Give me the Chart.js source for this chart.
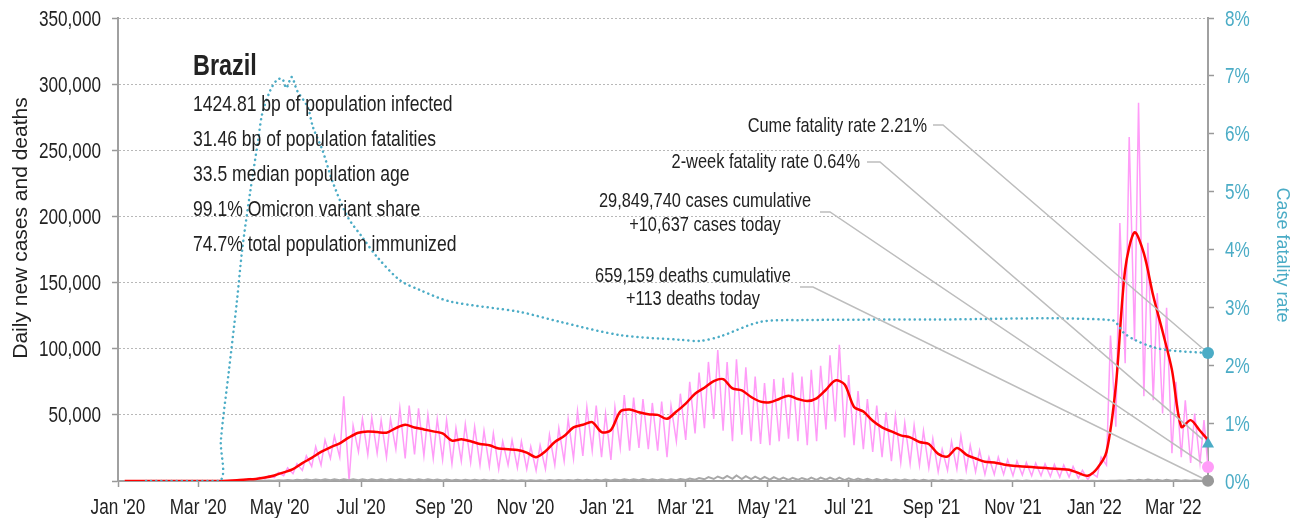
<!doctype html>
<html lang="en">
<head>
<meta charset="UTF-8" />
<title>Brazil: daily cases, deaths and case fatality rate</title>
<script src="https://cdn.jsdelivr.net/npm/chart.js"></script>
<style>
    html, body { margin: 0; padding: 0; background: #fff; }
    #chart-container { width: 1301px; height: 518px; }
</style>
</head>
<body>
<div id="chart-container"><canvas id="covidChart" width="1301" height="518"></canvas></div>
<script>
// no condensed face is installed, so text is drawn with a horizontal squeeze
const FONT = "'Liberation Sans', Arial, sans-serif";
const SQUEEZE = 0.78;
const TEAL = '#4bacc6';
const PINK = '#ff9cf8';
const INK = '#222';

// x axis: one tick every two months
const tickDates = ['2020-01-01', '2020-03-01', '2020-05-01', '2020-07-01', '2020-09-01', '2020-11-01',
    '2021-01-01', '2021-03-01', '2021-05-01', '2021-07-01', '2021-09-01', '2021-11-01',
    '2022-01-01', '2022-03-01'];
const tickLabels = ["Jan '20", "Mar '20", "May '20", "Jul '20", "Sep '20", "Nov '20",
    "Jan '21", "Mar '21", "May '21", "Jul '21", "Sep '21", "Nov '21", "Jan '22", "Mar '22"];

// weekly series, one value per Monday starting 2020-01-06
const firstMonday = '2020-01-06';
const lastDate = '2022-03-27';

// 7-day average of new cases
const weeklyAvgCases = [0, 0, 0, 0, 0, 0, 0, 0,
    0, 10, 40, 250, 600, 1100, 1600, 2600, 4200, 6500,
    9000, 13500, 17500, 22000, 25500, 28500, 33000, 36500, 37500, 37000,
    36500, 40000, 42500, 40500, 39000, 37500, 36000, 30500, 31500, 30000,
    28000, 27000, 24500, 24000, 23500, 21500, 18000, 22500, 29500, 34000,
    40500, 42500, 44500, 37000, 38500, 52500, 54000, 52000, 50500, 50000,
    47000, 52500, 58500, 66000, 70500, 75500, 77000, 70000, 68500, 63500,
    60000, 59500, 62000, 64500, 62000, 60500, 62500, 69000, 76000, 73000,
    56000, 52500, 45500, 40500, 37500, 34500, 33000, 29500, 28000, 20500,
    18500, 25000, 20000, 17000, 14500, 14000, 12500, 11500, 11000, 10500,
    10000, 9500, 9000, 8500, 6000, 4000, 9500, 22000, 72000, 160000,
    188000, 172000, 140000, 113000, 84000, 41000, 46000, 38000];

// daily new cases: weekly low (Monday) and high (Thursday)
const weeklyLowCases = [0, 0, 0, 0, 0, 0, 0, 0,
    0, 0, 30, 150, 350, 700, 1000, 1500, 2500, 4000,
    5500, 8000, 11000, 12000, 17000, 18000, 0, 22000, 20000, 21000,
    18000, 24000, 17000, 20000, 19000, 17000, 16000, 13000, 15000, 14000,
    12000, 11000, 9000, 12000, 10000, 9000, 8000, 9000, 12000, 15000,
    17000, 19000, 23000, 18000, 16000, 25000, 23000, 25000, 24000, 23000,
    18000, 30000, 31000, 36000, 40000, 47000, 38000, 30000, 35000, 30000,
    28000, 27000, 30000, 32000, 30000, 27000, 30000, 39000, 45000, 33000,
    27000, 24000, 22000, 18000, 15000, 14000, 13000, 12000, 10000, 7000,
    8000, 9000, 8000, 7000, 5000, 5000, 5000, 4000, 4500, 4000,
    4000, 3500, 3000, 3000, 2000, 1000, 3000, 12000, 41000, 89000,
    106000, 64000, 61000, 51000, 21000, 18000, 13600, 13600];
const weeklyHighCases = [0, 0, 0, 0, 0, 0, 0, 0,
    0, 20, 80, 400, 1000, 1800, 2800, 4000, 6500, 10000,
    13000, 19000, 26000, 31000, 34000, 64000, 42000, 47000, 48000, 46000,
    47000, 55000, 57000, 55000, 50000, 47000, 46000, 40000, 43000, 41000,
    38000, 36000, 30000, 31000, 30000, 26000, 27000, 35000, 40000, 47000,
    53000, 56000, 57000, 51000, 56000, 65000, 63000, 62000, 59000, 60000,
    57000, 66000, 75000, 82000, 90000, 99000, 90000, 92000, 86000, 79000,
    74000, 77000, 78000, 82000, 79000, 84000, 87000, 95000, 103000, 80000,
    68000, 62000, 57000, 52000, 49000, 44000, 42000, 38000, 32000, 24000,
    30000, 34000, 27000, 23000, 18000, 18000, 16000, 15000, 14000, 13500,
    13000, 12500, 12000, 11000, 8000, 6000, 18000, 110000, 195000, 260000,
    286000, 180000, 142000, 131000, 75000, 61000, 51000, 46000];

// daily deaths: weekly low (Monday) and high (Thursday)
const weeklyLowDeaths = [0, 0, 0, 0, 0, 0, 0, 0,
    0, 0, 0, 5, 30, 60, 100, 150, 250, 300,
    400, 600, 500, 600, 650, 650, 600, 600, 600, 650,
    600, 550, 550, 600, 600, 550, 450, 400, 450, 400,
    350, 300, 250, 250, 250, 200, 150, 250, 300, 300,
    350, 400, 400, 350, 450, 500, 550, 550, 550, 600,
    600, 650, 800, 1000, 1300, 1500, 1800, 1600, 1500, 1400,
    1200, 1000, 1000, 900, 900, 900, 900, 950, 800, 700,
    600, 550, 500, 450, 400, 350, 300, 280, 250, 200,
    200, 200, 180, 150, 120, 120, 100, 80, 80, 80,
    70, 60, 50, 50, 40, 30, 40, 50, 100, 200,
    300, 350, 300, 250, 150, 150, 130, 100];
const weeklyHighDeaths = [0, 0, 0, 0, 0, 0, 0, 0,
    0, 0, 2, 40, 120, 200, 250, 400, 500, 700,
    850, 1150, 1200, 1300, 1300, 1250, 1300, 1250, 1300, 1300,
    1350, 1350, 1250, 1250, 1350, 1200, 1100, 1000, 1000, 900,
    850, 750, 700, 600, 550, 500, 600, 700, 700, 800,
    850, 950, 1000, 1100, 1200, 1300, 1350, 1400, 1300, 1350,
    1300, 1550, 1900, 2300, 2900, 3400, 3800, 4200, 3700, 3300,
    3100, 2900, 2500, 2400, 2300, 2500, 2600, 2600, 2500, 2100,
    1800, 1700, 1500, 1300, 1200, 1100, 1000, 900, 800, 700,
    750, 700, 600, 550, 450, 450, 400, 350, 300, 280,
    250, 250, 200, 180, 150, 120, 180, 250, 450, 700,
    1000, 1100, 1000, 900, 700, 600, 500, 450];

// cumulative case fatality rate, percent
const cfrDates = ['2020-01-22', '2020-03-17', '2020-03-18', '2020-03-24', '2020-03-30', '2020-04-03',
    '2020-04-09', '2020-04-15', '2020-04-18', '2020-04-24', '2020-04-29', '2020-05-03', '2020-05-06',
    '2020-05-10', '2020-05-14', '2020-05-22', '2020-05-26', '2020-06-02', '2020-06-10', '2020-06-21',
    '2020-07-02', '2020-07-13', '2020-07-30', '2020-08-14', '2020-09-06', '2020-10-28', '2020-11-27',
    '2021-01-11', '2021-02-25', '2021-03-12', '2021-03-27', '2021-04-26', '2021-05-26', '2021-09-01',
    '2022-01-14', '2022-01-23', '2022-01-31', '2022-02-13', '2022-02-25', '2022-03-27'];
const cfrValues = [0, 0, 0.7, 1.9, 3.1, 4.0,
    5.0, 5.9, 6.35, 6.75, 6.93, 6.95, 6.79,
    6.98, 6.75, 6.46, 6.11, 5.72, 5.15, 4.56,
    4.21, 3.87, 3.47, 3.3, 3.1, 2.92, 2.75,
    2.52, 2.44, 2.42, 2.5, 2.75, 2.78, 2.79,
    2.78, 2.56, 2.44, 2.32, 2.26, 2.21];

// latest day
const casesToday = 10637;
const deathsToday = 113;
const avgCasesToday = 31000;
const cumeFatalityRate = 2.21;
const twoWeekFatalityRate = 0.64;

const statLines = ['1424.81 bp of population infected', '31.46 bp of population fatalities',
    '33.5 median population age', '99.1% Omicron variant share', '74.7% total population immunized'];

function dayOf(iso) {
    const [y, m, d] = iso.split('-').map(Number);
    return (Date.UTC(y, m - 1, d) - Date.UTC(2020, 0, 1)) / 86400000;
}

const startDay = dayOf(firstMonday);
const lastDay = dayOf(lastDate);
const tickDays = tickDates.map(dayOf);

function zigzag(lows, highs, today) {
    const pts = [];
    lows.forEach((lo, i) => {
        const d = startDay + 7 * i;
        pts.push({ x: d, y: lo });
        pts.push({ x: d + 3, y: highs[i] });
    });
    pts.push({ x: lastDay, y: today });
    return pts;
}

const avgPoints = weeklyAvgCases.map((v, i) => ({ x: startDay + 7 * i, y: v }));
avgPoints.push({ x: lastDay, y: avgCasesToday });
const cfrPoints = cfrDates.map((d, i) => ({ x: dayOf(d), y: cfrValues[i] }));

function markerSet(value, axis, color, style, radius) {
    return {
        data: [{ x: lastDay, y: value }], yAxisID: axis, showLine: false, clip: false,
        pointStyle: style, pointRadius: radius, pointBackgroundColor: color, pointBorderColor: color,
        pointBorderWidth: 0
    };
}

function squeezed(ctx, text, x, y, align, size, opts = {}) {
    ctx.save();
    ctx.font = (opts.bold ? 'bold ' : '') + size + 'px ' + FONT;
    ctx.fillStyle = opts.color || INK;
    ctx.textAlign = align;
    ctx.textBaseline = 'alphabetic';
    ctx.translate(x, y);
    if (opts.rotate) ctx.rotate(opts.rotate);
    ctx.scale(opts.sx || SQUEEZE, 1);
    ctx.fillText(text, 0, 0);
    ctx.restore();
}

// tick labels and axis titles
const axisTextPlugin = {
    id: 'axisText',
    afterDraw(chart) {
        const ctx = chart.ctx;
        const { x, y, y2 } = chart.scales;
        x.ticks.forEach((t, i) => {
            squeezed(ctx, tickLabels[i], x.getPixelForValue(t.value), 514, 'center', 22);
        });
        y.ticks.forEach(t => {
            if (t.value === 0) return;
            squeezed(ctx, t.value.toLocaleString('en-US'), 101, y.getPixelForValue(t.value) + 7.5, 'right', 22);
        });
        y2.ticks.forEach(t => {
            squeezed(ctx, t.value + '%', 1225, y2.getPixelForValue(t.value) + 7.5, 'left', 22, { color: TEAL });
        });
        squeezed(ctx, 'Daily new cases and deaths', 27, 228, 'center', 21, { rotate: -Math.PI / 2, sx: 1 });
        squeezed(ctx, 'Case fatality rate', 1277, 255, 'center', 18, { rotate: Math.PI / 2, sx: 1, color: TEAL });
    }
};

// text block, annotations and leader lines
const notesPlugin = {
    id: 'notes',
    afterDatasetsDraw(chart) {
        const ctx = chart.ctx;
        const x = chart.scales.x, y = chart.scales.y, y2 = chart.scales.y2;
        const ex = x.getPixelForValue(lastDay);

        const leaders = [
            { from: [933, 125], knee: [943, 125], to: [ex, y2.getPixelForValue(cumeFatalityRate)], r: 7 },
            { from: [867, 162], knee: [880, 162], to: [ex, y2.getPixelForValue(twoWeekFatalityRate)], r: 7 },
            { from: [820, 212], knee: [830, 212], to: [ex, y.getPixelForValue(casesToday)], r: 7 },
            { from: [800, 287], knee: [813, 287], to: [ex, y.getPixelForValue(deathsToday)], r: 6 }
        ];
        ctx.save();
        ctx.strokeStyle = '#bdbdbd';
        ctx.lineWidth = 1.5;
        leaders.forEach(l => {
            const dx = l.to[0] - l.knee[0], dy = l.to[1] - l.knee[1];
            const len = Math.hypot(dx, dy);
            ctx.beginPath();
            ctx.moveTo(l.from[0], l.from[1]);
            ctx.lineTo(l.knee[0], l.knee[1]);
            ctx.lineTo(l.to[0] - dx / len * l.r, l.to[1] - dy / len * l.r);
            ctx.stroke();
        });
        ctx.restore();

        squeezed(ctx, 'Brazil', 193, 75, 'left', 30, { bold: true });
        statLines.forEach((t, i) => squeezed(ctx, t, 193, 111 + 35 * i, 'left', 22.5));

        squeezed(ctx, 'Cume fatality rate ' + cumeFatalityRate.toFixed(2) + '%', 927, 132, 'right', 21);
        squeezed(ctx, '2-week fatality rate ' + twoWeekFatalityRate.toFixed(2) + '%', 860, 168, 'right', 21);
        squeezed(ctx, '29,849,740 cases cumulative', 705, 207, 'center', 21);
        squeezed(ctx, '+' + casesToday.toLocaleString('en-US') + ' cases today', 705, 231, 'center', 21);
        squeezed(ctx, '659,159 deaths cumulative', 693, 282, 'center', 21);
        squeezed(ctx, '+' + deathsToday.toLocaleString('en-US') + ' deaths today', 693, 305, 'center', 21);
    }
};

new Chart(document.getElementById('covidChart'), {
    type: 'line',
    data: {
        datasets: [
            markerSet(cumeFatalityRate, 'y2', TEAL, 'circle', 6),
            markerSet(twoWeekFatalityRate, 'y2', TEAL, 'triangle', 7),
            markerSet(casesToday, 'y', PINK, 'circle', 6),
            markerSet(deathsToday, 'y', '#999', 'circle', 6),
            {
                data: cfrPoints, yAxisID: 'y2', borderColor: TEAL, borderWidth: 2.5,
                borderDash: [0.1, 5], borderCapStyle: 'round', pointRadius: 0, tension: 0.3
            },
            {
                data: avgPoints, yAxisID: 'y', borderColor: '#ff0000', borderWidth: 2.5,
                pointRadius: 0, tension: 0.3
            },
            {
                data: zigzag(weeklyLowDeaths, weeklyHighDeaths, deathsToday), yAxisID: 'y',
                borderColor: '#a8a8a8', borderWidth: 2, pointRadius: 0, tension: 0
            },
            {
                data: zigzag(weeklyLowCases, weeklyHighCases, casesToday), yAxisID: 'y',
                borderColor: PINK, borderWidth: 1.5, pointRadius: 0, tension: 0
            }
        ]
    },
    options: {
        responsive: false,
        animation: false,
        layout: { padding: { top: 18, left: 0, right: 0, bottom: 0 } },
        plugins: { legend: { display: false }, tooltip: { enabled: false } },
        scales: {
            x: {
                type: 'linear', min: 0, max: lastDay,
                afterBuildTicks: s => { s.ticks = tickDays.map(v => ({ value: v })); },
                afterFit: s => { s.height = 37; },
                ticks: { display: false },
                grid: { drawOnChartArea: false, tickLength: 6, tickColor: '#999', tickWidth: 1.5 },
                border: { color: '#a0a0a0', width: 2 }
            },
            y: {
                position: 'left', min: 0, max: 350000,
                afterFit: s => { s.width = 118; },
                ticks: { display: false, stepSize: 50000 },
                grid: {
                    color: '#b8b8b8', lineWidth: 1, tickLength: 6, tickColor: '#999',
                    tickWidth: 1.5, tickBorderDash: []
                },
                border: { color: '#a0a0a0', width: 2, dash: [2, 2] }
            },
            y2: {
                position: 'right', min: 0, max: 8,
                afterFit: s => { s.width = 93; },
                ticks: { display: false, stepSize: 1 },
                grid: { drawOnChartArea: false, tickLength: 6, tickColor: '#999', tickWidth: 1.5 },
                border: { color: '#a0a0a0', width: 2 }
            }
        }
    },
    plugins: [notesPlugin, axisTextPlugin]
});
</script>
</body>
</html>
